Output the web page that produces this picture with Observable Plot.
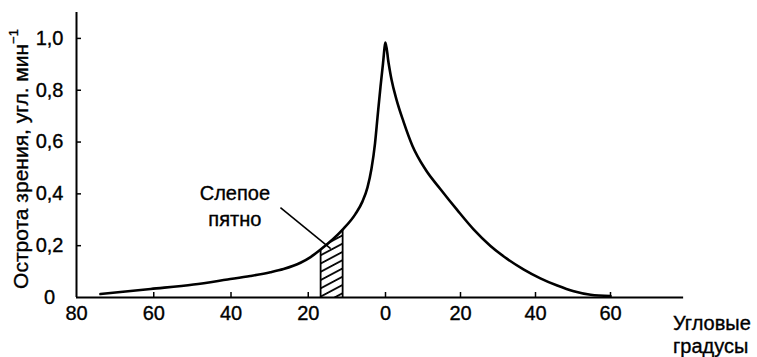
<!DOCTYPE html>
<html><head><meta charset="utf-8">
<script src="https://cdn.jsdelivr.net/npm/d3@7"></script>
<script src="https://cdn.jsdelivr.net/npm/@observablehq/plot@0.6"></script>
<style>
body{margin:0;background:#fff}
#chart svg{display:block}
#chart svg text{stroke:#000;stroke-width:0.35px}
</style>
</head><body><div id="chart"></div>
<script>
// Angular position (negative = left of fovea, shown as absolute degrees)
const curveX = [-73.8, -60.8, -49.7, -40.9, -35.0, -29.8, -26.4, -22.0, -19.4, -16.8, -11.1, -7.8, -5.95, -4.66, -3.62, -2.72, -2.07, -1.29, -0.65, 0,
                0.8, 1.6, 2.93, 4.8, 7.2, 10.67, 14.67, 19.1, 23.55, 28, 32.45, 36.9, 41.3, 45.8, 50.2, 54.7, 60];
const curveY = [0.0135, 0.033, 0.050, 0.0695, 0.083, 0.0976, 0.110, 0.134, 0.156, 0.185, 0.262, 0.322, 0.371, 0.425, 0.498, 0.594, 0.695, 0.814, 0.903, 0.984,
                0.907, 0.841, 0.764, 0.679, 0.585, 0.494, 0.418, 0.338, 0.262, 0.199, 0.149, 0.108, 0.074, 0.046, 0.024, 0.0104, 0.0054];
const xTicks = [-80, -60, -40, -20, 0, 20, 40, 60];
const yTicks = [0.2, 0.4, 0.6, 0.8, 1.0];
const blindX = [-16.8, -14, -11.1];
const blindTop = [0.185, 0.220, 0.262];
const blindLabel = "Слепое\nпятно";
const leaderX = [-27.2, -14.2];
const leaderY = [0.347, 0.189];
const labelPos = [-39, 0.357];
const yLabel = "Острота зрения, угл. мин";
const yLabelSup = "−1";
const xLabel = ["Угловые", "градусы"];

const curve = curveX.map((x, i) => ({x, y: curveY[i]}));
const blind = blindX.map((x, i) => ({x, y: blindTop[i]}));
const blindEdges = [blind[0], blind[blind.length - 1]];
const leader = [{x1: leaderX[0], y1: leaderY[0], x2: leaderX[1], y2: leaderY[1]}];
const fmtY = d => d.toFixed(1).replace(".", ",");

const FONT = "'Liberation Sans', Arial, Helvetica, sans-serif";

const plot = Plot.plot({
  width: 757, height: 357,
  marginLeft: 76, marginRight: 72, marginTop: 12, marginBottom: 60,
  style: {fontFamily: FONT, fontSize: "20px", color: "#000", background: "#fff", overflow: "visible"},
  x: {type: "linear", domain: [-80, 0, 80], range: [76, 385, 685], label: null},
  y: {domain: [0, 1.1], label: null},
  marks: [
    Plot.areaY(blind, {x: "x", y: "y", fill: "url(#hatch)"}),
    Plot.ruleX(blindEdges, {x: "x", y1: 0, y2: "y", stroke: "#000", strokeWidth: 1.8}),
    Plot.ruleY([0], {x1: -80, x2: 79.5, stroke: "#000", strokeWidth: 2}),
    Plot.ruleX([-80], {y1: 0, y2: 1.1, stroke: "#000", strokeWidth: 2}),
    Plot.ruleX(xTicks.slice(1), {x: d => d, y1: 0, y2: 0, insetTop: -5, stroke: "#000", strokeWidth: 1.5}),
    Plot.ruleY(yTicks, {y: d => d, x1: -80, x2: -80, insetRight: -5, stroke: "#000", strokeWidth: 1.5}),
    Plot.axisX(xTicks, {tickSize: 0, tickPadding: 8, tickFormat: d => String(Math.abs(d)), fill: "#000"}),
    Plot.axisY(yTicks, {tickSize: 0, tickPadding: 13, tickFormat: fmtY, fill: "#000"}),
    Plot.text(["0"], {x: -80, y: 0, text: d => d, dx: -27, textAnchor: "middle", fill: "#000"}),
    Plot.line(curve, {x: "x", y: "y", curve: "monotone-x", stroke: "#000", strokeWidth: 2.6}),
    Plot.link(leader, {x1: "x1", y1: "y1", x2: "x2", y2: "y2", stroke: "#000", strokeWidth: 1.6}),
    Plot.text([blindLabel], {x: labelPos[0], y: labelPos[1], text: d => d, lineHeight: 1.3, textAnchor: "middle", fill: "#000"})
  ]
});

const svg = d3.select(plot);
const defs = svg.insert("defs", ":first-child");
const pat = defs.append("pattern")
  .attr("id", "hatch").attr("patternUnits", "userSpaceOnUse")
  .attr("width", 10).attr("height", 7.3)
  .attr("patternTransform", "rotate(-28)");
pat.append("rect").attr("width", 10).attr("height", 7.3).attr("fill", "#fff");
pat.append("line").attr("x1", 0).attr("x2", 10).attr("y1", 3.6).attr("y2", 3.6)
  .attr("stroke", "#000").attr("stroke-width", 1.8);

const yl = svg.append("text")
  .attr("transform", "translate(28,159) rotate(-90)")
  .attr("text-anchor", "middle")
  .attr("font-family", FONT).attr("font-size", 21).attr("fill", "#000");
yl.append("tspan").text(yLabel);
yl.append("tspan").attr("dy", -10).attr("font-size", 13).text(yLabelSup);

xLabel.forEach((t, i) => {
  svg.append("text").attr("x", 673).attr("y", 330 + i * 23)
    .attr("text-anchor", "start")
    .attr("font-family", FONT).attr("font-size", 20).attr("fill", "#000").text(t);
});

document.getElementById("chart").appendChild(plot);
</script>
</body></html>
